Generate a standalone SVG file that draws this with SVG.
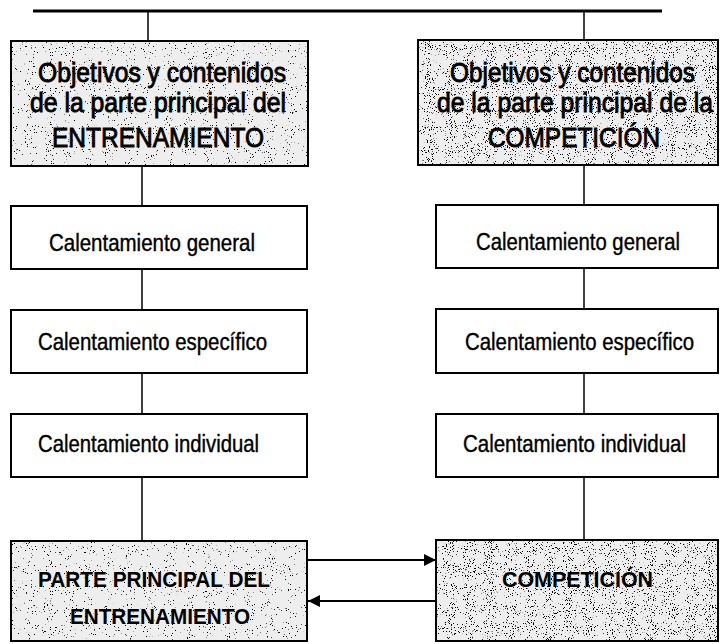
<svg xmlns="http://www.w3.org/2000/svg" width="720" height="644" viewBox="0 0 720 644">
<defs>
<filter id="speckle" x="0" y="0" width="1" height="1" filterUnits="objectBoundingBox">
<feTurbulence type="fractalNoise" baseFrequency="0.95" numOctaves="2" seed="4" result="n"/>
<feColorMatrix in="n" type="matrix" values="0 0 0 0 0  0 0 0 0 0  0 0 0 0 0  18 0 0 0 -12.4"/>
</filter>
<filter id="speckleDense" x="0" y="0" width="1" height="1" filterUnits="objectBoundingBox">
<feTurbulence type="fractalNoise" baseFrequency="0.95" numOctaves="2" seed="9" result="n"/>
<feColorMatrix in="n" type="matrix" values="0 0 0 0 0  0 0 0 0 0  0 0 0 0 0  18 0 0 0 -11.5"/>
</filter>
<marker id="arrow" viewBox="0 0 12 12" refX="12" refY="6" markerWidth="12" markerHeight="12" markerUnits="userSpaceOnUse" orient="auto">
<path d="M0,0 L12,6 L0,12 Z" fill="#000"/>
</marker>
</defs>
<style>
.box{fill:#fff;stroke:#000;stroke-width:2}
.shade{fill:#eeeeee;stroke:none}
.frame{fill:none;stroke:#000;stroke-width:2}
.t{font-family:"Liberation Sans",Arial,sans-serif;fill:#000}
.big{font-size:24.6px;stroke:#000;stroke-width:0.75}
.cal{font-size:20.5px;stroke:#000;stroke-width:0.35}
.bold{font-size:21px;font-weight:bold}
.conn{stroke:#000;stroke-width:1.5;fill:none}
</style>

<g id="connectors">
<line x1="33" y1="11" x2="662" y2="11" stroke="#000" stroke-width="3"/>
<line class="conn" x1="148" y1="11" x2="148" y2="41"/>
<line class="conn" x1="584" y1="11" x2="584" y2="40"/>
<line class="conn" x1="142" y1="166" x2="142" y2="206"/>
<line class="conn" x1="142" y1="269" x2="142" y2="310"/>
<line class="conn" x1="142" y1="373" x2="142" y2="414"/>
<line class="conn" x1="142" y1="477" x2="142" y2="541"/>
<line class="conn" x1="584" y1="165" x2="584" y2="205"/>
<line class="conn" x1="584" y1="268" x2="584" y2="309"/>
<line class="conn" x1="584" y1="373" x2="584" y2="414"/>
<line class="conn" x1="584" y1="477" x2="584" y2="540"/>
<line x1="308" y1="560" x2="436" y2="560" stroke="#000" stroke-width="2" marker-end="url(#arrow)"/>
<line x1="436" y1="601" x2="308" y2="601" stroke="#000" stroke-width="2" marker-end="url(#arrow)"/>
</g>

<g id="obj-entrenamiento">
<rect class="shade" x="11" y="41" width="297" height="125"/>
<rect x="11" y="41" width="297" height="125" fill="#000" filter="url(#speckle)"/>
<rect class="frame" x="11" y="41" width="297" height="125"/>
<text class="t big" transform="translate(38,82) scale(1,1.12)" textLength="248" lengthAdjust="spacingAndGlyphs">Objetivos y contenidos</text>
<text class="t big" transform="translate(30,112) scale(1,1.12)" textLength="256" lengthAdjust="spacingAndGlyphs">de la parte principal del</text>
<text class="t big" transform="translate(52,147) scale(1,1.12)" textLength="212" lengthAdjust="spacingAndGlyphs">ENTRENAMIENTO</text>
</g>

<g id="obj-competicion">
<rect class="shade" x="418" y="40" width="300" height="125"/>
<rect x="418" y="40" width="300" height="125" fill="#000" filter="url(#speckleDense)"/>
<rect class="frame" x="418" y="40" width="300" height="125"/>
<text class="t big" transform="translate(450,82) scale(1,1.12)" textLength="245" lengthAdjust="spacingAndGlyphs">Objetivos y contenidos</text>
<text class="t big" transform="translate(437,112) scale(1,1.12)" textLength="276" lengthAdjust="spacingAndGlyphs">de la parte principal de la</text>
<text class="t big" transform="translate(488,147) scale(1,1.12)" textLength="172" lengthAdjust="spacingAndGlyphs">COMPETICIÓN</text>
</g>

<g id="cal-general-left">
<rect class="box" x="11" y="206" width="296" height="63"/>
<text class="t cal" transform="translate(49,251) scale(1,1.16)" textLength="206" lengthAdjust="spacingAndGlyphs">Calentamiento general</text>
</g>
<g id="cal-especifico-left">
<rect class="box" x="11" y="310" width="296" height="63"/>
<text class="t cal" transform="translate(38,350) scale(1,1.16)" textLength="229" lengthAdjust="spacingAndGlyphs">Calentamiento específico</text>
</g>
<g id="cal-individual-left">
<rect class="box" x="11" y="414" width="296" height="63"/>
<text class="t cal" transform="translate(38,452) scale(1,1.16)" textLength="221" lengthAdjust="spacingAndGlyphs">Calentamiento individual</text>
</g>

<g id="cal-general-right">
<rect class="box" x="436" y="205" width="282" height="63"/>
<text class="t cal" transform="translate(476,250) scale(1,1.16)" textLength="204" lengthAdjust="spacingAndGlyphs">Calentamiento general</text>
</g>
<g id="cal-especifico-right">
<rect class="box" x="436" y="309" width="282" height="64"/>
<text class="t cal" transform="translate(465,350) scale(1,1.16)" textLength="229" lengthAdjust="spacingAndGlyphs">Calentamiento específico</text>
</g>
<g id="cal-individual-right">
<rect class="box" x="436" y="414" width="282" height="63"/>
<text class="t cal" transform="translate(463,452) scale(1,1.16)" textLength="223" lengthAdjust="spacingAndGlyphs">Calentamiento individual</text>
</g>

<g id="parte-principal">
<rect class="shade" x="11" y="541" width="296" height="100"/>
<rect x="11" y="541" width="296" height="100" fill="#000" filter="url(#speckle)"/>
<rect class="frame" x="11" y="541" width="296" height="100"/>
<text class="t bold" transform="translate(38,587) scale(1,1.05)" textLength="232" lengthAdjust="spacingAndGlyphs">PARTE PRINCIPAL DEL</text>
<text class="t bold" transform="translate(70,624) scale(1,1.05)" textLength="180" lengthAdjust="spacingAndGlyphs">ENTRENAMIENTO</text>
</g>

<g id="competicion">
<rect class="shade" x="436" y="540" width="282" height="101"/>
<rect x="436" y="540" width="282" height="101" fill="#000" filter="url(#speckleDense)"/>
<rect class="frame" x="436" y="540" width="282" height="101"/>
<text class="t bold" transform="translate(502,587) scale(1,1.05)" textLength="151" lengthAdjust="spacingAndGlyphs">COMPETICIÓN</text>
</g>
</svg>
